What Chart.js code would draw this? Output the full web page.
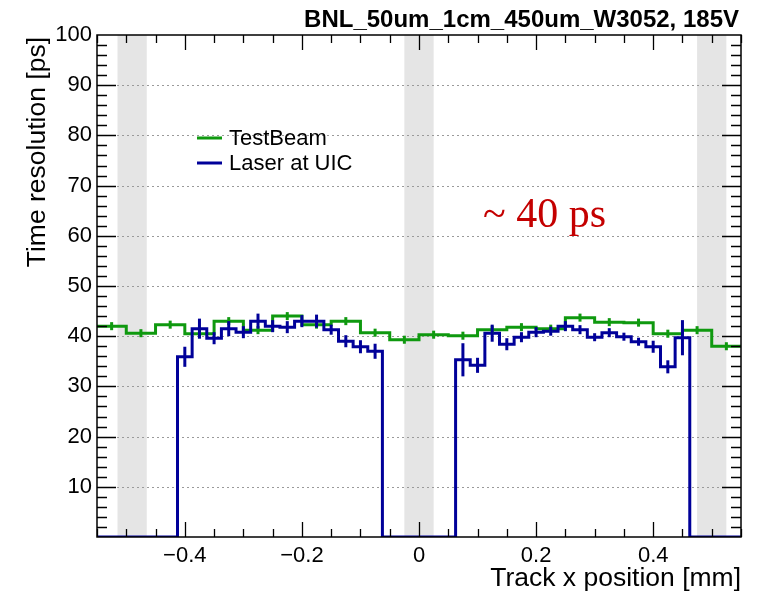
<!DOCTYPE html>
<html>
<head>
<meta charset="utf-8">
<script src="https://cdn.jsdelivr.net/npm/chart.js@4"></script>
<style>
  html, body { margin: 0; padding: 0; background: #fff; }
  canvas { display: block; }
</style>
</head>
<body>
<canvas id="resChart" width="761" height="595"></canvas>
<script>
// ===== Data =====
const xMin = -0.55, xMax = 0.55;
const yMin = 0, yMax = 100;

// test beam: 0.05 mm bins over the whole range
const beamStart = -0.55;
const beamWidth = 0.05;
const beamValues = [
  42.0, 40.6, 42.3, 40.5, 43.0, 41.2, 44.0, 42.3, 43.0, 40.7, 39.3,
  40.3, 40.1, 41.3, 41.8, 41.5, 43.7, 42.8, 42.7, 40.5, 41.2, 38.0
];
const beamErrors = [
  0.8, 0.8, 0.8, 0.8, 0.8, 0.8, 0.8, 0.8, 0.8, 0.8, 0.8,
  0.8, 0.8, 0.8, 0.8, 0.8, 0.8, 0.8, 0.8, 0.8, 0.8, 0.8
];

// laser scan: 0.025 mm bins, two scanned regions, empty elsewhere
const laserWidth = 0.025;
const laserLeftStart = -0.4125;
const laserLeft = [35.9, 41.5, 39.6, 41.5, 40.8, 43.0, 42.0, 41.8, 43.0, 43.0, 41.3, 39.0, 37.9, 37.0];
const laserLeftErr = [2.0, 2.0, 1.2, 1.5, 1.2, 1.5, 1.2, 1.2, 1.2, 1.3, 1.0, 1.2, 1.3, 1.5];
const laserRightStart = 0.0625;
const laserRight = [35.3, 34.2, 40.6, 38.4, 39.8, 40.8, 41.0, 42.0, 41.3, 39.8, 40.7, 39.9, 38.9, 37.9, 33.9, 39.7];
const laserRightErr = [3.3, 1.5, 1.7, 1.2, 1.0, 1.0, 0.9, 1.0, 0.9, 0.8, 0.9, 0.8, 0.8, 1.2, 1.3, 3.5];

// inactive (gap) regions
const gapLo = [-0.515, -0.025, 0.475];
const gapHi = [-0.465, 0.025, 0.525];

const xTicks = [-0.4, -0.2, 0, 0.2, 0.4];
const yTicks = [10, 20, 30, 40, 50, 60, 70, 80, 90, 100];
const gridLevels = [10, 20, 30, 40, 50, 60, 70, 80, 90];

const GREEN = '#0f990f';
const BLUE = '#000099';
const SANS = "'Liberation Sans', Arial, Helvetica, sans-serif";

// ===== Build step points =====
function beamPoints() {
  const pts = beamValues.map((v, i) => ({ x: beamStart + i * beamWidth, y: v }));
  pts.push({ x: beamStart + beamValues.length * beamWidth, y: beamValues[beamValues.length - 1] });
  return pts;
}

function laserPoints() {
  const pts = [{ x: xMin, y: 0 }];
  laserLeft.forEach((v, i) => pts.push({ x: laserLeftStart + i * laserWidth, y: v }));
  pts.push({ x: laserLeftStart + laserLeft.length * laserWidth, y: 0 });
  laserRight.forEach((v, i) => pts.push({ x: laserRightStart + i * laserWidth, y: v }));
  pts.push({ x: laserRightStart + laserRight.length * laserWidth, y: 0 });
  pts.push({ x: xMax, y: 0 });
  return pts;
}

// ===== Plugins =====
const backdrop = {
  id: 'backdrop',
  beforeDatasetsDraw(chart) {
    const { ctx, chartArea: a, scales: { x, y } } = chart;
    ctx.save();
    ctx.fillStyle = '#e5e5e5';
    gapLo.forEach((lo, i) => {
      const x0 = x.getPixelForValue(lo), x1 = x.getPixelForValue(gapHi[i]);
      ctx.fillRect(x0, a.top, x1 - x0, a.bottom - a.top);
    });
    ctx.strokeStyle = '#9a9a9a';
    ctx.lineWidth = 1;
    ctx.setLineDash([2, 3]);
    gridLevels.forEach(v => {
      const py = Math.round(y.getPixelForValue(v)) + 0.5;
      ctx.beginPath();
      ctx.moveTo(a.left, py);
      ctx.lineTo(a.right, py);
      ctx.stroke();
    });
    ctx.restore();
  }
};

function drawErrors(ctx, x, y, start, width, values, errors, color) {
  ctx.strokeStyle = color;
  ctx.lineWidth = 3;
  values.forEach((v, i) => {
    const px = x.getPixelForValue(start + (i + 0.5) * width);
    ctx.beginPath();
    ctx.moveTo(px, y.getPixelForValue(v - errors[i]));
    ctx.lineTo(px, y.getPixelForValue(v + errors[i]));
    ctx.stroke();
  });
}

const decorations = {
  id: 'decorations',
  afterDatasetsDraw(chart) {
    const { ctx, chartArea: a, scales: { x, y } } = chart;
    ctx.save();

    drawErrors(ctx, x, y, beamStart, beamWidth, beamValues, beamErrors, GREEN);
    drawErrors(ctx, x, y, laserLeftStart, laserWidth, laserLeft, laserLeftErr, BLUE);
    drawErrors(ctx, x, y, laserRightStart, laserWidth, laserRight, laserRightErr, BLUE);

    // frame
    ctx.strokeStyle = '#000';
    ctx.lineWidth = 1.5;
    ctx.strokeRect(a.left, a.top, a.right - a.left, a.bottom - a.top);

    // ticks on all four sides, pointing inwards
    ctx.lineWidth = 1.3;
    ctx.beginPath();
    for (let k = 0; k <= 22; k++) {
      const v = xMin + k * 0.05;
      const major = xTicks.some(t => Math.abs(t - v) < 1e-6);
      const len = major ? 15 : 8;
      const px = Math.round(x.getPixelForValue(v)) + 0.5;
      ctx.moveTo(px, a.bottom); ctx.lineTo(px, a.bottom - len);
      ctx.moveTo(px, a.top); ctx.lineTo(px, a.top + len);
    }
    for (let v = 2; v < 100; v += 2) {
      const len = v % 10 === 0 ? 19 : 10;
      const py = Math.round(y.getPixelForValue(v)) + 0.5;
      ctx.moveTo(a.left, py); ctx.lineTo(a.left + len, py);
      ctx.moveTo(a.right, py); ctx.lineTo(a.right - len, py);
    }
    ctx.stroke();

    // legend
    const legend = [['TestBeam', GREEN, 138], ['Laser at UIC', BLUE, 163]];
    ctx.font = '22px ' + SANS;
    ctx.textBaseline = 'middle';
    ctx.textAlign = 'left';
    legend.forEach(([label, color, ly]) => {
      ctx.strokeStyle = color;
      ctx.lineWidth = 3;
      ctx.beginPath();
      ctx.moveTo(197, ly); ctx.lineTo(222, ly);
      ctx.stroke();
      ctx.fillStyle = '#000';
      ctx.fillText(label, 229, ly + 1);
    });

    // annotation
    ctx.fillStyle = '#c40000';
    ctx.font = "42px 'Liberation Serif', 'Times New Roman', serif";
    ctx.textBaseline = 'alphabetic';
    ctx.fillText('~ 40 ps', 483, 227);

    // title and axis titles
    ctx.fillStyle = '#000';
    ctx.font = 'bold 24px ' + SANS;
    ctx.textAlign = 'right';
    ctx.fillText('BNL_50um_1cm_450um_W3052, 185V', 739, 27);

    ctx.font = '26.5px ' + SANS;
    ctx.fillText('Track x position [mm]', a.right, 586);

    ctx.translate(38, a.top + 2);
    ctx.rotate(-Math.PI / 2);
    ctx.textBaseline = 'middle';
    ctx.fillText('Time resolution [ps]', 0, 0);
    ctx.restore();
  }
};

// ===== Chart =====
const ctx = document.getElementById('resChart').getContext('2d');
new Chart(ctx, {
  type: 'line',
  data: {
    datasets: [
      {
        label: 'Laser at UIC',
        data: laserPoints(),
        stepped: 'before',
        borderColor: BLUE,
        borderWidth: 3,
        pointRadius: 0,
        fill: false
      },
      {
        label: 'TestBeam',
        data: beamPoints(),
        stepped: 'before',
        borderColor: GREEN,
        borderWidth: 3,
        pointRadius: 0,
        fill: false
      }
    ]
  },
  options: {
    responsive: false,
    animation: false,
    layout: { padding: { top: 35, right: 20, left: 0, bottom: 0 } },
    plugins: {
      legend: { display: false },
      tooltip: { enabled: false }
    },
    scales: {
      x: {
        type: 'linear',
        min: xMin,
        max: xMax,
        afterBuildTicks: axis => { axis.ticks = xTicks.map(v => ({ value: v })); },
        afterFit: axis => { axis.height = 58; },
        grid: { display: false, drawTicks: false },
        border: { display: false },
        ticks: {
          color: '#000',
          padding: 6,
          maxRotation: 0,
          font: { family: SANS, size: 22 },
          callback: v => (v < 0 ? '\u2212' : '') + Math.abs(v).toString()
        }
      },
      y: {
        type: 'linear',
        min: yMin,
        max: yMax,
        afterBuildTicks: axis => { axis.ticks = yTicks.map(v => ({ value: v })); },
        afterFit: axis => { axis.width = 97; },
        grid: { display: false, drawTicks: false },
        border: { display: false },
        ticks: {
          color: '#000',
          padding: 5,
          font: { family: SANS, size: 22 }
        }
      }
    }
  },
  plugins: [backdrop, decorations]
});
</script>
</body>
</html>
